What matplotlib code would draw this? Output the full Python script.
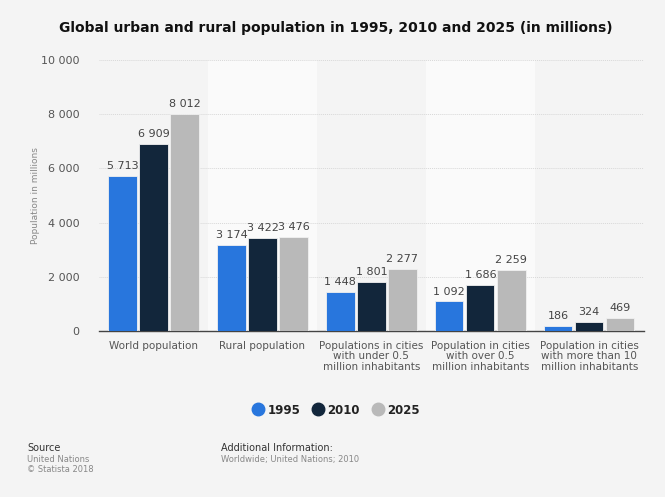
import matplotlib.pyplot as plt
from matplotlib.lines import Line2D
import numpy as np

# Category labels and series values (millions)
categories = ['World population', 'Rural population',
              'Populations in cities\nwith under 0.5\nmillion inhabitants',
              'Population in cities\nwith over 0.5\nmillion inhabitants',
              'Population in cities\nwith more than 10\nmillion inhabitants']
years = ['1995', '2010', '2025']
pop_1995 = [5713, 3174, 1448, 1092, 186]
pop_2010 = [6909, 3422, 1801, 1686, 324]
pop_2025 = [8012, 3476, 2277, 2259, 469]
colors = ['#2876dd', '#12263b', '#b9b9b9']

bg = '#f4f4f4'
fig = plt.figure(figsize=(6.65, 4.97), dpi=100, facecolor=bg)
ax = fig.add_axes([0.149, 0.334, 0.819, 0.545])
ax.set_facecolor(bg)

x = np.arange(len(categories))
width = 0.26
step = 0.285

# lighter bands behind every other category
for i in x:
    if i % 2 == 1:
        ax.axvspan(i - 0.5, i + 0.5, color='#fafafa', zorder=0, lw=0)

for k, (vals, col) in enumerate(zip([pop_1995, pop_2010, pop_2025], colors)):
    pos = x + (k - 1) * step
    ax.bar(pos, vals, width, color=col, edgecolor='#f0f0f0', linewidth=0.6, zorder=3)
    for xp, v in zip(pos, vals):
        ax.text(xp, v + 180, f'{v:,}'.replace(',', ' '), ha='center', va='bottom',
                fontsize=8, color='#444444', zorder=4)

ax.set_xlim(-0.5, 4.5)
ax.set_ylim(0, 10000)
ax.set_yticks(np.arange(0, 10001, 2000))
ax.set_yticklabels([f'{v:,}'.replace(',', ' ') for v in range(0, 10001, 2000)],
                   fontsize=8, color='#555555')
ax.set_xticks(x)
ax.set_xticklabels(categories, fontsize=7.5, color='#555555', linespacing=1.05)
ax.tick_params(axis='both', length=0)
ax.tick_params(axis='y', pad=14)
ax.tick_params(axis='x', pad=7)
ax.grid(axis='y', color='#d8d8d8', linestyle=(0, (1, 1)), linewidth=0.7, zorder=1)
for s in ['top', 'right', 'left']:
    ax.spines[s].set_visible(False)
ax.spines['bottom'].set_color('#444444')
ax.spines['bottom'].set_linewidth(1.0)

ax.set_ylabel('Population in millions', fontsize=6.5, color='#888888')
ax.yaxis.set_label_coords(-0.108, 0.5)

fig.text(0.505, 0.943, 'Global urban and rural population in 1995, 2010 and 2025 (in millions)',
         ha='center', va='center', fontsize=10, fontweight='bold', color='#111111')

# round legend markers
handles = [Line2D([], [], marker='o', linestyle='', markersize=9, color=c) for c in colors]
fig.legend(handles, years, loc='center', bbox_to_anchor=(0.505, 0.175), ncol=3, frameon=False,
           handlelength=1.0, handletextpad=0.3, columnspacing=1.0,
           prop={'size': 8.5, 'weight': 'bold'}, labelcolor='#222222')

fig.text(0.041, 0.099, 'Source', fontsize=7, color='#333333', va='center')
fig.text(0.041, 0.075, 'United Nations', fontsize=6, color='#888888', va='center')
fig.text(0.041, 0.056, '\u00a9 Statista 2018', fontsize=6, color='#888888', va='center')
fig.text(0.332, 0.099, 'Additional Information:', fontsize=7, color='#333333', va='center')
fig.text(0.332, 0.075, 'Worldwide; United Nations; 2010', fontsize=6, color='#888888', va='center')

fig.savefig('out.png', dpi=100, facecolor=bg)
